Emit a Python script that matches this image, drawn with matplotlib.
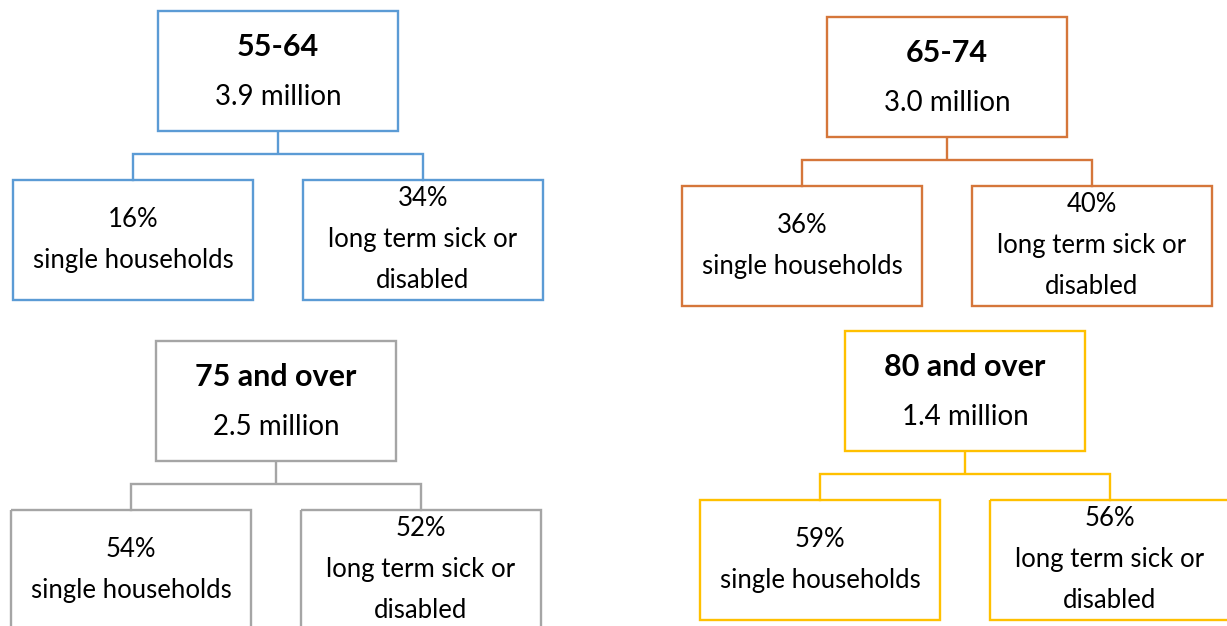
import matplotlib
matplotlib.use("Agg")
import matplotlib.pyplot as plt
from matplotlib.patches import Rectangle

# data
age_bands = ["55-64", "65-74", "75 and over", "80 and over"]
population = ["3.9 million", "3.0 million", "2.5 million", "1.4 million"]
single_pct = ["16%", "36%", "54%", "59%"]
sick_pct = ["34%", "40%", "52%", "56%"]
colours = ["#5B9BD5", "#D5763A", "#A5A5A5", "#FFC000"]

# layout (pixels, origin top-left): top-box left edge and top edge per tree
origins = [(158, 11), (827, 17), (156, 341), (845, 331)]
BW, BH = 240, 120          # box size
SPREAD = 145               # child centre offset from parent centre
ELBOW, DROP = 143, 169     # connector y and child top, relative to tree top
LINE = 41                  # text line spacing

W, H = 1227, 626
plt.rcParams["font.family"] = ["Lato", "DejaVu Sans"]
fig = plt.figure(figsize=(W / 100, H / 100), dpi=100)
ax = fig.add_axes([0, 0, 1, 1])
ax.set_xlim(0, W)
ax.set_ylim(H, 0)
ax.axis("off")


def box(x, y, c):
    ax.add_patch(Rectangle((x, y), BW, BH, fill=False, edgecolor=c, lw=1.7))


for i, (x0, y0) in enumerate(origins):
    c = colours[i]
    cx = x0 + BW / 2
    box(x0, y0, c)
    ax.text(cx, y0 + 36, age_bands[i], ha="center", va="center",
            fontsize=22, fontweight="bold", color="black")
    ax.text(cx, y0 + 86, population[i], ha="center", va="center",
            fontsize=20, color="black")

    # connector
    lx, rx = cx - SPREAD, cx + SPREAD
    ax.plot([cx, cx], [y0 + BH, y0 + ELBOW], color=c, lw=1.7,
            solid_capstyle="butt")
    ax.plot([lx, lx, rx, rx], [y0 + DROP, y0 + ELBOW, y0 + ELBOW, y0 + DROP],
            color=c, lw=1.7, solid_joinstyle="miter")

    # children
    cy = y0 + DROP + BH / 2
    box(lx - BW / 2, y0 + DROP, c)
    ax.text(lx, cy - LINE / 2, single_pct[i], ha="center", va="center",
            fontsize=18.5)
    ax.text(lx, cy + LINE / 2, "single households", ha="center", va="center",
            fontsize=18.5)
    box(rx - BW / 2, y0 + DROP, c)
    for k, s in enumerate([sick_pct[i], "long term sick or", "disabled"]):
        ax.text(rx, cy + (k - 1) * LINE - 1, s, ha="center", va="center",
                fontsize=18.5)

fig.savefig("out.png", dpi=100, facecolor="white")
